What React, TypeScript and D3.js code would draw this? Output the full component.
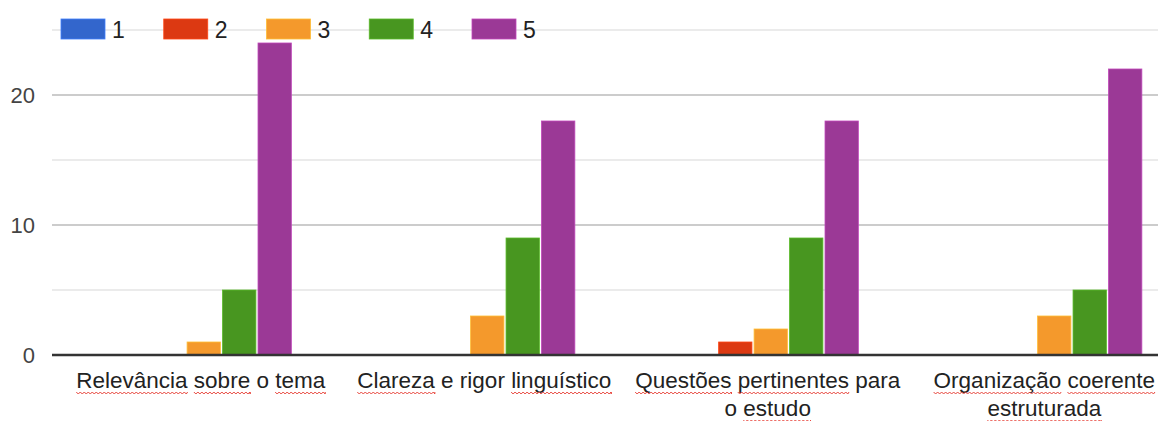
import React, { useEffect, useRef } from "react"
import * as d3 from "d3"

const categories = [
    ["Relevância sobre o tema"],
    ["Clareza e rigor linguístico"],
    ["Questões pertinentes para", "o estudo"],
    ["Organização coerente", "estruturada"],
]
const seriesNames = ["1", "2", "3", "4", "5"]
const seriesColors = ["#3366cc", "#dc3912", "#f4992c", "#489620", "#9b3996"]
const values = [
    [0, 0, 1, 5, 24],
    [0, 0, 3, 9, 18],
    [0, 1, 2, 9, 18],
    [0, 0, 3, 5, 22],
]
const yTicks = [0, 10, 20]
const yGrid = [5, 10, 15, 20, 25]
// words that got the red spell-check squiggle in the screenshot
const squiggled = ["Relevância", "sobre", "tema", "Clareza", "linguístico", "Questões", "pertinentes", "estudo", "Organização", "coerente", "estruturada"]

const App = () => {
    const ref = useRef(null)

    useEffect(() => {
        document.body.style.margin = "0"
        const svg = d3.select(ref.current)
        svg.selectAll("*").remove()

        const width = 1158
        const height = 421
        const margin = { top: 30, left: 52, bottom: 66 }
        const font = "Arial, 'Liberation Sans', sans-serif"

        const y = d3.scaleLinear()
            .domain([0, 25])
            .range([height - margin.bottom, margin.top])

        // chart area runs past the right edge of the picture (it was cropped)
        const x0 = d3.scaleBand()
            .domain(d3.range(categories.length))
            .range([62, 1196])
            .paddingInner(0.382)
            .paddingOuter(0.191)

        const x1 = d3.scaleBand()
            .domain(d3.range(seriesNames.length))
            .range([0, x0.bandwidth()])
            .paddingInner(0.06)

        svg.append("g")
            .selectAll("line")
            .data(yGrid)
            .join("line")
            .attr("x1", margin.left)
            .attr("x2", width)
            .attr("y1", d => y(d))
            .attr("y2", d => y(d))
            .attr("stroke", d => d % 10 === 0 ? "#cccccc" : "#ebebeb")
            .attr("stroke-width", 2)

        svg.append("g")
            .selectAll("text")
            .data(yTicks)
            .join("text")
            .attr("x", 35)
            .attr("y", d => y(d))
            .attr("dy", "0.36em")
            .attr("text-anchor", "end")
            .attr("font-family", font)
            .attr("font-size", 22)
            .attr("fill", "#444")
            .text(d => d)

        const groups = svg.append("g")
            .selectAll("g")
            .data(values)
            .join("g")
            .attr("transform", (d, i) => `translate(${x0(i)},0)`)

        groups.selectAll("rect")
            .data(d => d.map((v, j) => ({ v, j })).filter(d => d.v > 0))
            .join("rect")
            .attr("x", d => x1(d.j))
            .attr("width", x1.bandwidth())
            .attr("y", d => y(d.v))
            .attr("height", d => y(0) - y(d.v))
            .attr("fill", d => seriesColors[d.j])
            .attr("stroke", d => d3.color(seriesColors[d.j]).brighter(0.6))
            .attr("stroke-width", 0.8)

        svg.append("line")
            .attr("x1", margin.left)
            .attr("x2", width)
            .attr("y1", y(0))
            .attr("y2", y(0))
            .attr("stroke", "#333")
            .attr("stroke-width", 2.5)

        // category labels, centred under each group but kept inside the picture
        const labels = svg.append("g")
            .selectAll("text")
            .data(categories)
            .join("text")
            .attr("y", 388)
            .attr("text-anchor", "middle")
            .attr("font-family", font)
            .attr("font-size", 22.5)
            .attr("fill", "#222")

        labels.each(function (lines, i) {
            const t = d3.select(this)
            lines.forEach((line, li) => {
                const words = line.split(" ")
                words.forEach((w, wi) => {
                    const ts = t.append("tspan").attr("class", "w" + li)
                    if (wi === 0) ts.attr("dy", li === 0 ? 0 : 28)
                    ts.text(w + (wi < words.length - 1 ? " " : ""))
                })
            })
            const widest = d3.max(lines, (l, li) => {
                let s = 0
                t.selectAll(".w" + li).each(function () { s += this.getComputedTextLength() })
                return s
            })
            const cx = Math.min(x0(i) + x0.bandwidth() / 2 - 3, width - 3 - widest / 2)
            t.selectAll("tspan").each(function (d, k) {
                if (this.getAttribute("dy") !== null) d3.select(this).attr("x", cx)
            })
        })

        // red squiggles under the flagged words
        labels.each(function () {
            d3.select(this).selectAll("tspan").each(function () {
                const word = this.textContent.trim()
                if (!squiggled.includes(word)) return
                const n = word.length
                const x = this.getStartPositionOfChar(0).x
                const end = this.getEndPositionOfChar(n - 1).x
                const base = this.getStartPositionOfChar(0).y + 4
                let d = `M${x},${base}`
                for (let px = x; px < end; px += 4) {
                    d += `L${Math.min(px + 2, end)},${base + 2}L${Math.min(px + 4, end)},${base}`
                }
                svg.append("path")
                    .attr("d", d)
                    .attr("fill", "none")
                    .attr("stroke", "#e8453c")
                    .attr("stroke-width", 1)
            })
        })

        // legend
        const legend = svg.append("g")
            .selectAll("g")
            .data(seriesNames)
            .join("g")
            .attr("transform", (d, i) => `translate(${61 + i * 102.75},19)`)

        legend.append("rect")
            .attr("width", 44)
            .attr("height", 20)
            .attr("fill", (d, i) => seriesColors[i])
            .attr("stroke", (d, i) => d3.color(seriesColors[i]).brighter(0.6))
            .attr("stroke-width", 0.8)

        legend.append("text")
            .attr("x", 51)
            .attr("y", 19)
            .attr("font-family", font)
            .attr("font-size", 23)
            .attr("fill", "#222")
            .text(d => d)
    }, [])

    return <svg ref={ref} width={1158} height={421} style={{ display: "block" }} />
}

export default App
